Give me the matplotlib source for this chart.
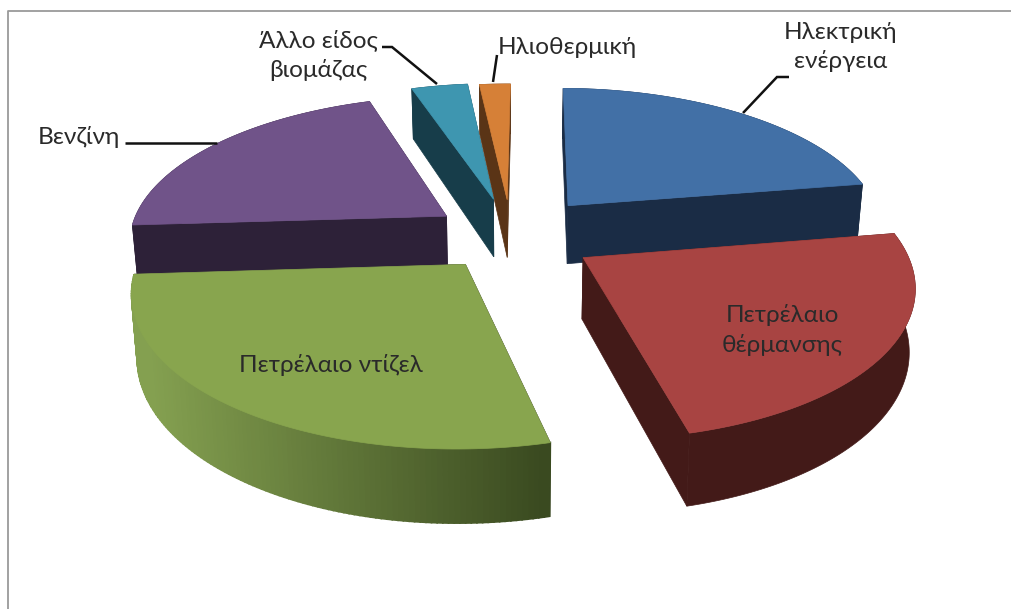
import numpy as np
import matplotlib
matplotlib.use('Agg')
import matplotlib.pyplot as plt
from matplotlib.patches import Polygon

plt.rcParams['font.family'] = ['Lato', 'Open Sans', 'DejaVu Sans']

# shares, clockwise from the first slice angle
labels  = ['Ηλεκτρική\nενέργεια', 'Πετρέλαιο\nθέρμανσης', 'Πετρέλαιο ντίζελ',
           'Βενζίνη', 'Άλλο είδος\nβιομάζας', 'Ηλιοθερμική']
values  = [22.23, 23.75, 27.85, 20.9, 3.4, 1.87]
explode = [0.285, 0.265, 0.235, 0.25, 0.27, 0.26]

top_colors  = ['#4270a6', '#a84442', '#88a54e', '#705389', '#3e96b0', '#d68037']
wall_colors = ['#1a2c45', '#431a18', '#2d2138', '#2d2138', '#173d4a', '#5a3416']

# projection of the pie, in pixels
cx, cy      = 511, 236
radius_x    = 318
radius_y    = 145
persp       = 0.16
depth       = 60
shrink      = 0.985
first_angle = 0.6


def project(x, y, z=0.0):
    s = 1 / (1 - persp * y)
    f = 1 - (1 - shrink) * z
    return cx + radius_x * x * s * f, cy + radius_y * y * s + depth * s * z


def mix(c1, c2, t):
    a = np.array(matplotlib.colors.to_rgb(c1))
    b = np.array(matplotlib.colors.to_rgb(c2))
    return a + (b - a) * t


fig = plt.figure(figsize=(10.11, 6.09), dpi=100)
ax = fig.add_axes([0, 0, 1, 1])
ax.set_xlim(0, 1011)
ax.set_ylim(609, 0)
ax.axis('off')

# chart frame, cut by the image on the right and at the bottom
ax.plot([8, 8, 1011], [609, 11, 11], color='#9a9a9a', lw=1.3)

edges = np.radians(first_angle) + np.cumsum([0] + values) / np.sum(values) * 2 * np.pi


def draw_slice(i):
    t0, t1 = edges[i], edges[i + 1]
    mid = (t0 + t1) / 2
    ox, oy = explode[i] * np.sin(mid), -explode[i] * np.cos(mid)
    theta = np.linspace(t0, t1, 120)
    rx = ox + np.sin(theta)
    ry = oy - np.cos(theta)

    # the two cut faces
    for t in (t0, t1):
        ex, ey = ox + np.sin(t), oy - np.cos(t)
        face = [project(ox, oy), project(ex, ey), project(ex, ey, 1), project(ox, oy, 1)]
        ax.add_patch(Polygon(face, closed=True, fc=wall_colors[i], ec=wall_colors[i], lw=0.5))

    # outer rim; only green carries a gradient
    if i == 2:
        for k in range(len(theta) - 1):
            quad = [project(rx[k], ry[k]), project(rx[k + 1], ry[k + 1]),
                    project(rx[k + 1], ry[k + 1], 1), project(rx[k], ry[k], 1)]
            col = mix('#84a050', '#3a4a20', np.clip((quad[0][0] - 150) / 395, 0, 1))
            ax.add_patch(Polygon(quad, closed=True, fc=col, ec=col, lw=1.2))
    else:
        rim = [project(a, b) for a, b in zip(rx, ry)] + [project(a, b, 1) for a, b in zip(rx[::-1], ry[::-1])]
        ax.add_patch(Polygon(rim, closed=True, fc=wall_colors[i], ec=wall_colors[i], lw=0.5))

    top = [project(ox, oy)] + [project(a, b) for a, b in zip(rx, ry)]
    ax.add_patch(Polygon(top, closed=True, fc=top_colors[i], ec=top_colors[i], lw=0.5))


for i in [5, 4, 3, 0, 2, 1]:
    draw_slice(i)

# labels
font = 17.6
txt = '#2a2a2a'
ax.text(841, 47, labels[0], ha='center', va='center', fontsize=font, color=txt, linespacing=1.35)
ax.text(782, 330, labels[1], ha='center', va='center', fontsize=font, color=txt, linespacing=1.45)
ax.text(331, 365, labels[2], ha='center', va='center', fontsize=font, color=txt)
ax.text(79, 137, labels[3], ha='center', va='center', fontsize=font, color=txt)
ax.text(318, 55, labels[4], ha='center', va='center', fontsize=font, color=txt, linespacing=1.4)
ax.text(567, 47, labels[5], ha='center', va='center', fontsize=font, color=txt)

# leader lines
leader = dict(color='#111111', lw=1.8, solid_capstyle='butt', solid_joinstyle='miter')
ax.plot([789, 777, 743], [77, 77, 113], **leader)
ax.plot([125, 217], [143, 143], **leader)
ax.plot([382, 392, 437], [47, 47, 84], **leader)
ax.plot([497, 493], [55, 82], **leader)

fig.savefig('out.png', dpi=100)
plt.close()
